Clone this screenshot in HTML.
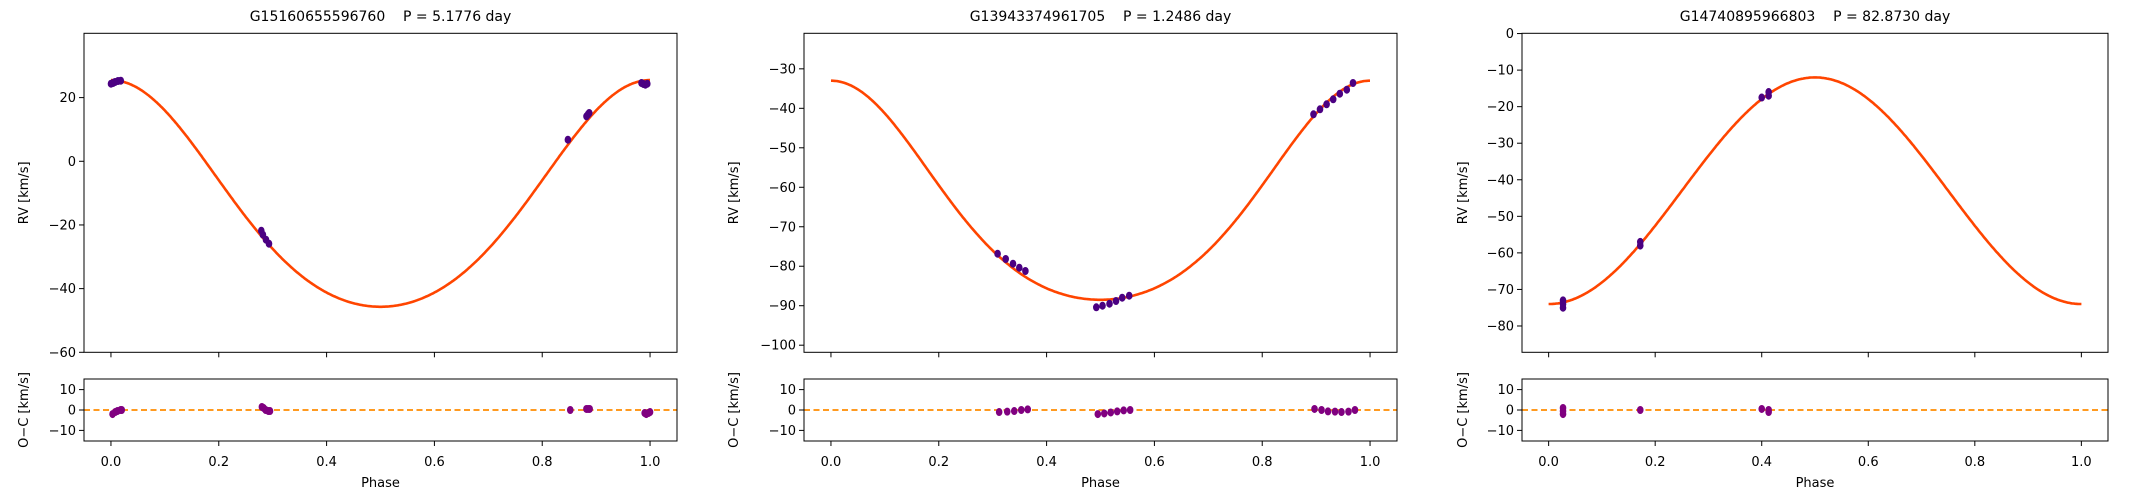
<!DOCTYPE html>
<html><head><meta charset="utf-8"><style>
html,body{margin:0;padding:0;background:#fff;}
svg{display:block;font-family:"DejaVu Sans","Liberation Sans",sans-serif;}
</style></head><body>
<svg id="s" width="2130" height="500" xmlns="http://www.w3.org/2000/svg"></svg>
<script>
const S=document.getElementById('s');let h='';
const T=33.3,B=352.3,T2=379,B2=441;
const P=[
{L:84,R:677,title:'G15160655596760    P = 5.1776 day',ymin:-60,ymax:40.2,ticks:[-60,-40,-20,0,20],ylab:24,
 mean:(25.5-45.7)/2,amp:(25.5+45.7)/2,sign:1,a:0.033,
 px:[[111,83.7],[113,83],[115,82],[118,81],[120.8,80.7],[261.3,230.7],[262.9,234.7],[266,239.7],[269,243.7],[567.9,139.7],[586.5,116.3],[588,114.5],[589.2,113],[641.5,83],[643.5,84],[645.4,84.7],[647.3,83.7]],
 res:[[0.003,-2],[0.008,-1],[0.012,-0.5],[0.018,0],[0.02,0],[0.28,1.5],[0.283,1],[0.287,0],[0.292,-0.5],[0.295,-0.5],[0.852,0],[0.882,0.5],[0.885,0.5],[0.888,0.5],[0.99,-1.5],[0.993,-2],[0.997,-1.5],[1.0,-1]]},
{L:804,R:1397,title:'G13943374961705    P = 1.2486 day',ymin:-101.8,ymax:-21,ticks:[-100,-90,-80,-70,-60,-50,-40,-30],ylab:734,
 mean:(-33-88.5)/2,amp:(88.5-33)/2,sign:1,a:0.045,
 px:[[997.6,253.7],[1005.7,259],[1013,263.7],[1019.3,267.7],[1025.4,271],[1096.3,307.3],[1102.5,305.7],[1109.5,303.7],[1116,301],[1122.2,297.7],[1129.2,295.7],[1313.5,114.3],[1320,109.3],[1326.6,104.3],[1333.2,99.3],[1339.8,93.7],[1346.8,89.7],[1353,83]],
 res:[[0.312,-1],[0.327,-0.8],[0.34,-0.5],[0.353,0],[0.365,0.3],[0.495,-2],[0.507,-1.7],[0.519,-1.2],[0.531,-0.7],[0.543,-0.2],[0.555,0],[0.897,0.5],[0.91,0],[0.922,-0.7],[0.935,-0.8],[0.947,-1],[0.96,-0.8],[0.972,0]]},
{L:1522,R:2108,title:'G14740895966803    P = 82.8730 day',ymin:-87.2,ymax:0.07,ticks:[-80,-70,-60,-50,-40,-30,-20,-10,0],
 mean:(-74-12)/2,amp:(74-12)/2,sign:-1,a:0,ylab:1463,
 pts:[[0.027,-73],[0.027,-74],[0.027,-75],[0.172,-57],[0.172,-58],[0.4,-17.5],[0.413,-16],[0.413,-17]],
 res:[[0.027,1],[0.027,-0.5],[0.027,-2],[0.172,0],[0.4,0.5],[0.413,0],[0.413,-1]]}
];
const fmt=v=>(v<0?'\u2212'+(-v):''+v);
P.forEach(p=>{
 const X=x=>p.L+(x+0.05)/1.1*(p.R-p.L);
 const Y=y=>B-(y-p.ymin)/(p.ymax-p.ymin)*(B-T);
 const Y2=y=>B2-(y+15.2)/30.4*(B2-T2);
 let d='';for(let i=0;i<=400;i++){const x=i/400;const w=x+p.a*Math.sin(2*Math.PI*x);const y=p.mean+p.sign*p.amp*Math.cos(2*Math.PI*w);d+=(i?'L':'M')+X(x).toFixed(1)+','+Y(y).toFixed(1);}
 h+=`<path d="${d}" fill="none" stroke="#ff4500" stroke-width="2.6"/>`;
 if(p.px) p.px.forEach(q=>h+=`<ellipse cx="${q[0]}" cy="${q[1]}" rx="3.3" ry="4" fill="#4b0082"/>`);
 else p.pts.forEach(q=>h+=`<ellipse cx="${X(q[0])}" cy="${Y(q[1])}" rx="3.3" ry="4" fill="#4b0082"/>`);
 h+=`<line x1="${p.L}" x2="${p.R}" y1="${Y2(0)}" y2="${Y2(0)}" stroke="#ff8c00" stroke-width="1.8" stroke-dasharray="6,3.5"/>`;
 p.res.forEach(q=>h+=`<ellipse cx="${X(q[0])}" cy="${Y2(q[1])}" rx="3.3" ry="4" fill="#800080"/>`);
 h+=`<rect x="${p.L}" y="${T}" width="${p.R-p.L}" height="${B-T}" fill="none" stroke="#000" stroke-width="1"/>`;
 h+=`<rect x="${p.L}" y="${T2}" width="${p.R-p.L}" height="${B2-T2}" fill="none" stroke="#000" stroke-width="1"/>`;
 for(let k=0;k<=5;k++){const x=X(k*0.2);
  h+=`<line x1="${x}" x2="${x}" y1="${B}" y2="${B+5}" stroke="#000"/>`;
  h+=`<line x1="${x}" x2="${x}" y1="${B2}" y2="${B2+5}" stroke="#000"/>`;
  h+=`<text x="${x}" y="466" font-size="13" text-anchor="middle">${(k*0.2).toFixed(1)}</text>`;}
 p.ticks.forEach(t=>{const y=Y(t);
  h+=`<line x1="${p.L-5}" x2="${p.L}" y1="${y}" y2="${y}" stroke="#000"/>`;
  h+=`<text x="${p.L-8}" y="${y+4.5}" font-size="13" text-anchor="end">${fmt(t)}</text>`;});
 [-10,0,10].forEach(t=>{const y=Y2(t);
  h+=`<line x1="${p.L-5}" x2="${p.L}" y1="${y}" y2="${y}" stroke="#000"/>`;
  h+=`<text x="${p.L-8}" y="${y+4.5}" font-size="13" text-anchor="end">${fmt(t)}</text>`;});
 const cx=(p.L+p.R)/2;
 h+=`<text x="${cx}" y="21" font-size="14" text-anchor="middle" xml:space="preserve">${p.title}</text>`;
 h+=`<text x="${cx}" y="487" font-size="13" text-anchor="middle">Phase</text>`;
 h+=`<text transform="translate(${p.ylab+4},${(T+B)/2}) rotate(-90)" font-size="13" text-anchor="middle">RV [km/s]</text>`;
 h+=`<text transform="translate(${p.ylab+4},${(T2+B2)/2}) rotate(-90)" font-size="13" text-anchor="middle">O−C [km/s]</text>`;
});
S.innerHTML=h;
</script>
</body></html>
